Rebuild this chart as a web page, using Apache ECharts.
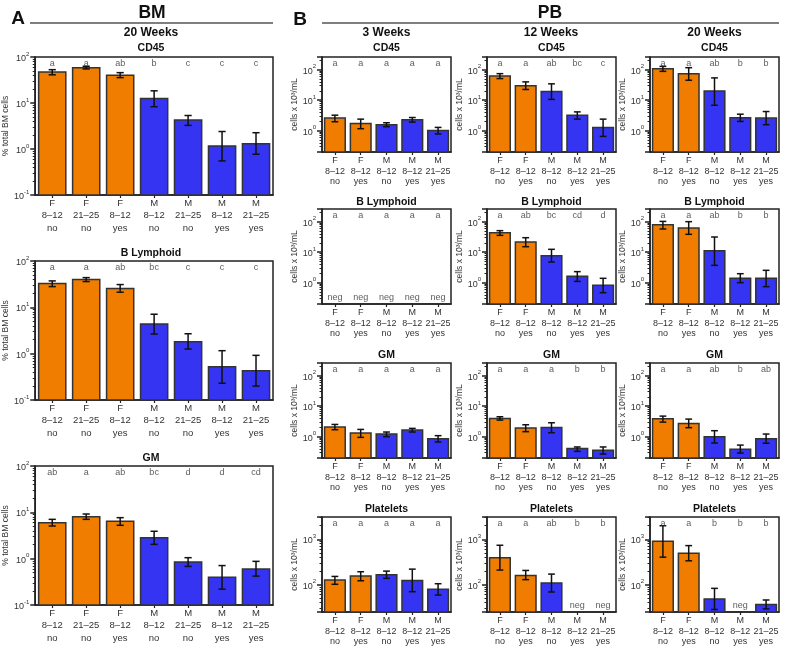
<!DOCTYPE html>
<html><head><meta charset="utf-8">
<script src="https://cdn.jsdelivr.net/npm/echarts@6/dist/echarts.min.js"></script>
<style>html,body{margin:0;padding:0;background:#fff}#c{width:785px;height:651px}</style>
</head><body><div id="c"></div>
<script>
// ---------- categories ----------
const bmSex = ['F','F','F','M','M','M','M'];
const bmAge = ['8–12','21–25','8–12','8–12','21–25','8–12','21–25'];
const bmTrt = ['no','no','yes','no','no','yes','yes'];
const pbSex = ['F','F','M','M','M'];
const pbAge = ['8–12','8–12','8–12','8–12','21–25'];
const pbTrt = ['no','yes','no','yes','yes'];

// ---------- BM, 20 weeks (% total BM cells) ----------
const bmCD45Mean = [47, 58.7, 40, 12.5, 4.25, 1.16, 1.3];
const bmCD45Low  = [41, 55, 35.6, 8.3, 3.26, 0.55, 0.77];
const bmCD45High = [53, 62.8, 45.7, 18.4, 5.35, 2.4, 2.26];
const bmCD45Letters = ['a','a','ab','b','c','c','c'];

const bmBLymMean = [32.6, 39.7, 25.4, 4.35, 1.81, 0.52, 0.43];
const bmBLymLow  = [28, 36, 21.2, 2.65, 1.26, 0.23, 0.2];
const bmBLymHigh = [37.2, 43.8, 31, 7.1, 2.69, 1.16, 0.92];
const bmBLymLetters = ['a','a','ab','bc','c','c','c'];

const bmGMMean = [5.98, 8.06, 6.4, 2.84, 0.85, 0.395, 0.6];
const bmGMLow  = [5.07, 7.06, 5.25, 2.04, 0.68, 0.22, 0.42];
const bmGMHigh = [7.06, 9.2, 7.67, 3.9, 1.05, 0.71, 0.875];
const bmGMLetters = ['ab','a','ab','bc','d','d','cd'];

// ---------- PB 3 weeks (cells x 10^3/mL) ----------
const pb3CD45Mean = [2.58, 1.73, 1.57, 2.27, 1.02];
const pb3CD45Low  = [1.96, 1.16, 1.35, 1.91, 0.78];
const pb3CD45High = [3.22, 2.39, 1.82, 2.7, 1.28];
const pb3CD45Letters = ['a','a','a','a','a'];

const pb3BLymMean = [null, null, null, null, null];
const pb3BLymLow  = [null, null, null, null, null];
const pb3BLymHigh = [null, null, null, null, null];
const pb3BLymLetters = ['a','a','a','a','a'];

const pb3GMMean = [2.07, 1.32, 1.22, 1.65, 0.86];
const pb3GMLow  = [1.69, 0.95, 1.0, 1.42, 0.67];
const pb3GMHigh = [2.52, 1.73, 1.42, 1.87, 1.08];
const pb3GMLetters = ['a','a','a','a','a'];

const pb3PltMean = [126, 155, 166, 124, 79];
const pb3PltLow  = [102, 122, 138, 70, 59];
const pb3PltHigh = [152, 193, 199, 220, 105];
const pb3PltLetters = ['a','a','a','a','a'];

// ---------- PB 12 weeks ----------
const pb12CD45Mean = [62.3, 29.5, 19.3, 3.22, 1.28];
const pb12CD45Low  = [51, 22.4, 10.6, 2.39, 0.65];
const pb12CD45High = [74, 39.8, 34.3, 4.13, 2.39];
const pb12CD45Letters = ['a','a','ab','bc','c'];

const pb12BLymMean = [43.6, 21.5, 7.67, 1.61, 0.82];
const pb12BLymLow  = [35.6, 15.1, 4.76, 1.1, 0.47];
const pb12BLymHigh = [50.7, 29.8, 12.4, 2.3, 1.39];
const pb12BLymLetters = ['a','ab','bc','cd','d'];

const pb12GMMean = [3.96, 1.92, 2.01, 0.41, 0.36];
const pb12GMLow  = [3.5, 1.46, 1.35, 0.33, 0.27];
const pb12GMHigh = [4.49, 2.46, 2.86, 0.46, 0.46];
const pb12GMLetters = ['a','a','a','b','b'];

const pb12PltMean = [390, 160, 109, null, null];
const pb12PltLow  = [210, 129, 69, null, null];
const pb12PltHigh = [739, 206, 171, null, null];
const pb12PltLetters = ['a','a','ab','b','b'];

// ---------- PB 20 weeks ----------
const pb20CD45Mean = [108, 74, 19.8, 2.64, 2.58];
const pb20CD45Low  = [88, 45, 6.8, 2.01, 1.57];
const pb20CD45High = [128, 116, 53.7, 3.47, 4.24];
const pb20CD45Letters = ['a','a','ab','b','b'];

const pb20BLymMean = [79.8, 62, 11.2, 1.39, 1.39];
const pb20BLymLow  = [57.5, 38.5, 3.7, 1.0, 0.74];
const pb20BLymHigh = [102, 100, 31.4, 1.97, 2.54];
const pb20BLymLetters = ['a','a','ab','b','b'];

const pb20GMMean = [3.86, 2.72, 1.0, 0.386, 0.86];
const pb20GMLow  = [3.0, 1.97, 0.62, 0.29, 0.61];
const pb20GMHigh = [4.72, 3.77, 1.57, 0.53, 1.22];
const pb20GMLetters = ['a','a','ab','b','ab'];

const pb20PltMean = [903, 493, 48.5, null, 36.5];
const pb20PltLow  = [404, 336, 28.4, null, 29.3];
const pb20PltHigh = [1990, 726, 83, null, 46];
const pb20PltLetters = ['a','a','b','b','b'];

// ---------- axis ranges ----------
const bmRange = [0.1, 100];
const pbRange = [0.2, 260];
const pltRange = [25, 3100];

// ---------- styling / layout ----------
const FONT = '"Liberation Sans", Arial, Helvetica, sans-serif';
const ORANGE = '#F07D00';
const BLUE = '#3434F2';
const INK = '#222';

const panels = [];
const bmRows = [
  {top:57, h:138, title:'CD45', ty:48, m:bmCD45Mean, lo:bmCD45Low, hi:bmCD45High, let:bmCD45Letters},
  {top:261, h:139, title:'B Lymphoid', ty:253, m:bmBLymMean, lo:bmBLymLow, hi:bmBLymHigh, let:bmBLymLetters},
  {top:466, h:139, title:'GM', ty:458, m:bmGMMean, lo:bmGMLow, hi:bmGMHigh, let:bmGMLetters}
];
bmRows.forEach(r => panels.push({left:29, width:244, top:r.top, height:r.h, title:r.title, ty:r.ty,
  sex:bmSex, age:bmAge, trt:bmTrt, mean:r.m, low:r.lo, high:r.hi, letters:r.let, range:bmRange,
  yname:'% total BM cells', fs:9.5, lh:12.5, lm:2, capHalf:3.6}));

const pbCols = [322, 487, 650];
const pbTops = [57, 209, 363, 517];
const pbTitleY = [48, 202, 355, 509];
const pbTitles = ['CD45','B Lymphoid','GM','Platelets'];
const pbData = [
  [[pb3CD45Mean,pb3CD45Low,pb3CD45High,pb3CD45Letters],[pb3BLymMean,pb3BLymLow,pb3BLymHigh,pb3BLymLetters],[pb3GMMean,pb3GMLow,pb3GMHigh,pb3GMLetters],[pb3PltMean,pb3PltLow,pb3PltHigh,pb3PltLetters]],
  [[pb12CD45Mean,pb12CD45Low,pb12CD45High,pb12CD45Letters],[pb12BLymMean,pb12BLymLow,pb12BLymHigh,pb12BLymLetters],[pb12GMMean,pb12GMLow,pb12GMHigh,pb12GMLetters],[pb12PltMean,pb12PltLow,pb12PltHigh,pb12PltLetters]],
  [[pb20CD45Mean,pb20CD45Low,pb20CD45High,pb20CD45Letters],[pb20BLymMean,pb20BLymLow,pb20BLymHigh,pb20BLymLetters],[pb20GMMean,pb20GMLow,pb20GMHigh,pb20GMLetters],[pb20PltMean,pb20PltLow,pb20PltHigh,pb20PltLetters]]
];
pbCols.forEach((left, c) => {
  pbTops.forEach((top, r) => {
    const d = pbData[c][r];
    panels.push({left:left, width:129, top:top, height:95, title:pbTitles[r], ty:pbTitleY[r],
      sex:pbSex, age:pbAge, trt:pbTrt, mean:d[0], low:d[1], high:d[2], letters:d[3],
      range: r === 3 ? pltRange : pbRange,
      yname:'cells x 10³/mL', fs:9, lh:10.5, lm:3.5, capHalf:3.4});
  });
});

function fmtPow(v) {
  const e = Math.log10(v);
  const r = Math.round(e);
  if (Math.abs(e - r) > 1e-6) return '';
  return '{b|10}{s|' + r + '}';
}

function makeRender(capHalf) {
  return function (params, api) {
    const cs = params.coordSys;
    const i = api.value(0), v = api.value(1), lo = api.value(2), hi = api.value(3), g = api.value(4);
    const top = api.coord([i, v]);
    const bw = api.size([1, v])[0] * 0.8;
    const base = cs.y + cs.height;
    const pl = api.coord([i, lo]);
    const ph = api.coord([i, hi]);
    const ls = {stroke:'#111', lineWidth:1.5};
    return {type:'group', children:[
      {type:'rect', shape:{x:top[0]-bw/2, y:top[1], width:bw, height:base-top[1]},
        style:{fill: g ? BLUE : ORANGE, stroke:'#333', lineWidth:1.5}},
      {type:'line', shape:{x1:top[0], y1:pl[1], x2:top[0], y2:ph[1]}, style:ls},
      {type:'line', shape:{x1:top[0]-capHalf, y1:ph[1], x2:top[0]+capHalf, y2:ph[1]}, style:ls},
      {type:'line', shape:{x1:top[0]-capHalf, y1:pl[1], x2:top[0]+capHalf, y2:pl[1]}, style:ls}
    ]};
  };
}

const grid = [], xAxis = [], yAxis = [], series = [];
const graphic = [];
panels.forEach((p, k) => {
  grid.push({left:p.left, top:p.top, width:p.width, height:p.height, show:true,
    borderColor:INK, borderWidth:1.5, backgroundColor:'transparent', containLabel:false});
  const cats = p.sex.map((s, i) => s + '\n' + p.age[i] + '\n' + p.trt[i]);
  xAxis.push({type:'category', gridIndex:k, data:cats,
    axisTick:{show:true, alignWithLabel:true, length:3, lineStyle:{color:INK, width:1.2}},
    axisLine:{show:true, lineStyle:{color:INK, width:1.5}},
    axisLabel:{interval:0, fontSize:p.fs, lineHeight:p.lh, color:'#333', margin:p.lm, fontFamily:FONT}});
  yAxis.push({type:'log', gridIndex:k, logBase:10, min:p.range[0], max:p.range[1],
    name:p.yname, nameLocation:'middle', nameGap:21, nameRotate:90,
    nameTextStyle:{fontSize:8.5, color:'#333', fontFamily:FONT},
    axisLine:{show:true, lineStyle:{color:INK, width:1.5}},
    axisTick:{show:true, length:5, lineStyle:{color:INK, width:1.5}},
    minorTick:{show:true, splitNumber:9, length:2.5, lineStyle:{color:INK, width:1}},
    splitLine:{show:false}, minorSplitLine:{show:false},
    axisLabel:{formatter:fmtPow, margin:6, showMinLabel:true, showMaxLabel:true,
      rich:{b:{fontSize:9, color:'#333', fontFamily:FONT, lineHeight:12, verticalAlign:'bottom'},
            s:{fontSize:6, color:'#333', fontFamily:FONT, lineHeight:12, verticalAlign:'top'}}}});
  const data = [];
  p.mean.forEach((v, i) => { if (v != null) data.push([i, v, p.low[i], p.high[i], p.sex[i] === 'F' ? 0 : 1]); });
  series.push({type:'custom', xAxisIndex:k, yAxisIndex:k, data:data, clip:false,
    encode:{x:0, y:1}, renderItem:makeRender(p.capHalf), silent:true});
  series.push({type:'scatter', xAxisIndex:k, yAxisIndex:k, clip:false, silent:true, symbolSize:0,
    data:p.letters.map((l, i) => [i, p.range[1]]),
    label:{show:true, position:'bottom', distance:2, fontSize:9, color:'#333', fontFamily:FONT,
      formatter:(pp) => p.letters[pp.dataIndex]}});
  const negs = [];
  p.mean.forEach((v, i) => { if (v == null) negs.push([i, p.range[0]]); });
  if (negs.length) {
    series.push({type:'scatter', xAxisIndex:k, yAxisIndex:k, clip:false, silent:true, symbolSize:0,
      data:negs, label:{show:true, position:'top', distance:2, fontSize:9, color:'#333', fontFamily:FONT, formatter:'neg'}});
  }
  graphic.push({type:'text', x:p.left + p.width / 2, y:p.ty,
    style:{text:p.title, fill:'#111', fontSize:10.5, fontWeight:'bold', fontFamily:FONT, align:'center', verticalAlign:'middle'}});
});

function txt(x, y, t, size) {
  return {type:'text', x:x, y:y, style:{text:t, fill:'#111', fontSize:size, fontWeight:'bold', fontFamily:FONT, align:'center', verticalAlign:'middle'}};
}
graphic.push(txt(18, 19, 'A', 19));
graphic.push(txt(152, 13, 'BM', 17.5));
graphic.push({type:'line', shape:{x1:30, y1:23, x2:273, y2:23}, style:{stroke:'#555', lineWidth:1.5}});
graphic.push(txt(151, 33, '20 Weeks', 12));
graphic.push(txt(300, 20, 'B', 19));
graphic.push(txt(550, 13, 'PB', 17.5));
graphic.push({type:'line', shape:{x1:322, y1:23, x2:779, y2:23}, style:{stroke:'#555', lineWidth:1.5}});
graphic.push(txt(386.5, 33, '3 Weeks', 12));
graphic.push(txt(551, 33, '12 Weeks', 12));
graphic.push(txt(714.5, 33, '20 Weeks', 12));

const chart = echarts.init(document.getElementById('c'), null, {renderer:'canvas'});
chart.setOption({animation:false, backgroundColor:'#fff', grid, xAxis, yAxis, series, graphic});
</script></body></html>
